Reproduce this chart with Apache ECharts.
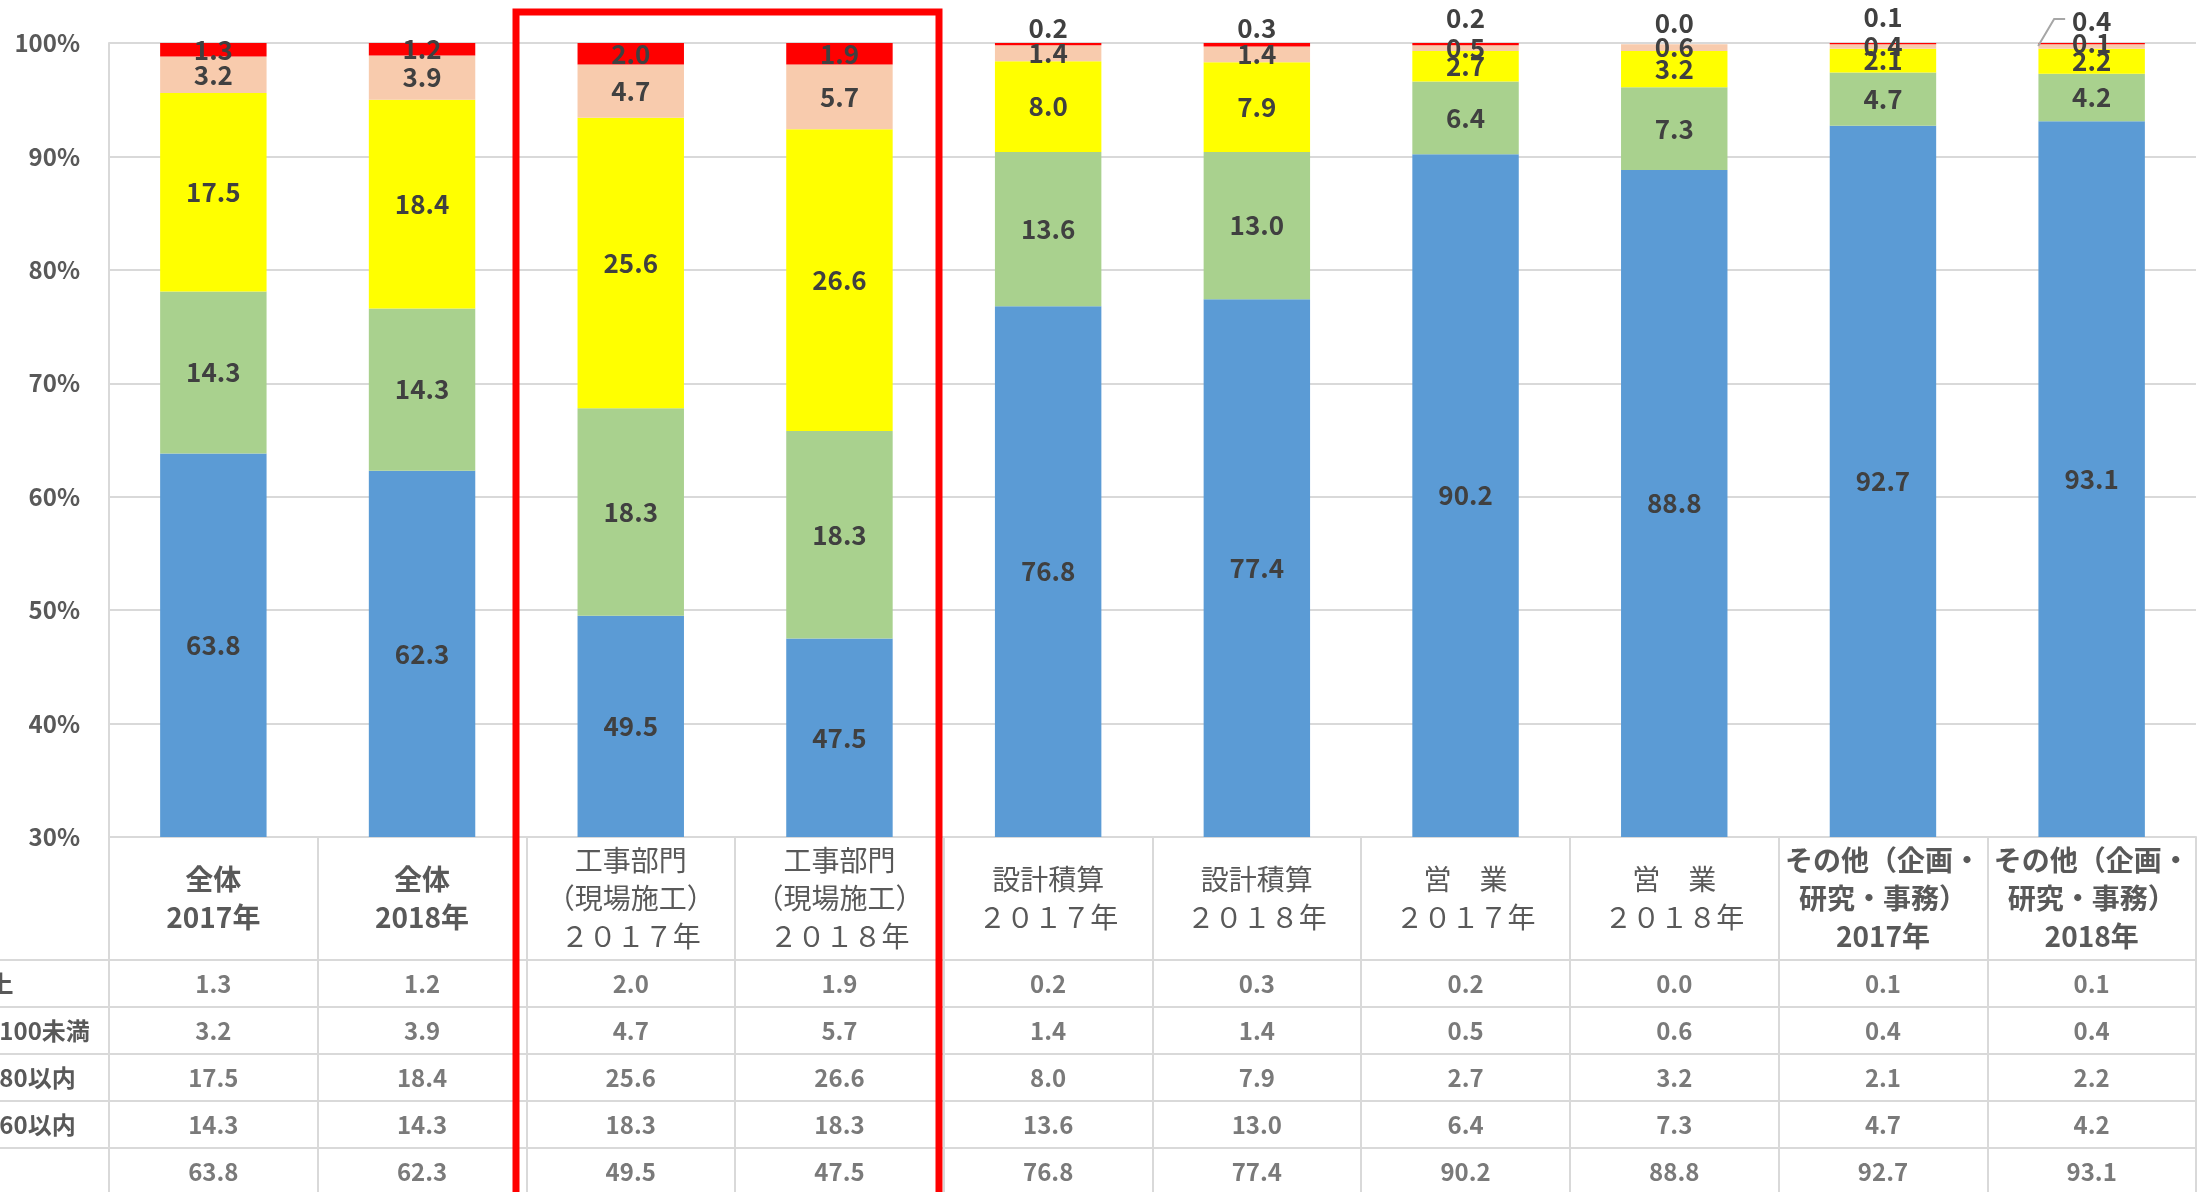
<!DOCTYPE html>
<html>
<head>
<meta charset="utf-8">
<script src="https://cdn.jsdelivr.net/npm/echarts@6/dist/echarts.min.js"></script>
<style>
  html, body { margin: 0; padding: 0; background: #fff; }
  #chart { width: 2202px; height: 1192px; }
</style>
</head>
<body>
<div id="chart"></div>
<script>
// ---------------------------------
// data
// ---------------------------------

const categories = [
    "全体\n2017年",
    "全体\n2018年",
    "工事部門\n（現場施工）\n２０１７年",
    "工事部門\n（現場施工）\n２０１８年",
    "設計積算\n２０１７年",
    "設計積算\n２０１８年",
    "営　業\n２０１７年",
    "営　業\n２０１８年",
    "その他（企画・\n研究・事務）\n2017年",
    "その他（企画・\n研究・事務）\n2018年"
];

// table rows, top to bottom (labels are cut at the left edge)
const rowNames = [
    "100以上",
    "80以上100未満",
    "60以上80以内",
    "40以上60以内",
    "40未満"
];

const redValues    = [1.3, 1.2, 2.0, 1.9, 0.2, 0.3, 0.2, 0.0, 0.1, 0.1];
const pinkValues   = [3.2, 3.9, 4.7, 5.7, 1.4, 1.4, 0.5, 0.6, 0.4, 0.4];
const yellowValues = [17.5, 18.4, 25.6, 26.6, 8.0, 7.9, 2.7, 3.2, 2.1, 2.2];
const greenValues  = [14.3, 14.3, 18.3, 18.3, 13.6, 13.0, 6.4, 7.3, 4.7, 4.2];
const blueValues   = [63.8, 62.3, 49.5, 47.5, 76.8, 77.4, 90.2, 88.8, 92.7, 93.1];

const yTicks = [30, 40, 50, 60, 70, 80, 90, 100];

// ---------------------------------
// styles
// ---------------------------------

const FONT = "'Noto Sans CJK JP', 'Noto Sans', sans-serif";
const LINE = "#D9D9D9";
const boldHeaders = [0, 1, 8, 9];

// red labels of the thin top segments were moved up
const redLabelShift = { 4: -16, 5: -17, 6: -26, 7: -21, 8: -26 };
// pink label of the last bar was dragged up (with a leader line)
const movedPinkIndex = 9;
const movedPinkShift = -25;

function barSeries(name, values, color, extra) {
    return Object.assign({
        name: name,
        type: "bar",
        stack: "total",
        barCategoryGap: "49%",
        xAxisIndex: 0,
        yAxisIndex: 0,
        itemStyle: { color: color },
        label: {
            show: true,
            position: "inside",
            fontFamily: FONT,
            fontWeight: "bold",
            fontSize: 26,
            color: "#404040",
            formatter: p => Number(p.value).toFixed(1)
        },
        data: values.slice()
    }, extra || {});
}

const tableData = [];
[redValues, pinkValues, yellowValues, greenValues, blueValues].forEach(
    (row, ri) => {
        row.forEach((v, ci) => {
            tableData.push([ci, ri, v]);
        });
    }
);

const chart = echarts.init(document.getElementById("chart"));

const boxRect = {
    type: "rect",
    z: 100,
    shape: { x: 516, y: 12, width: 423, height: 1200 },
    style: { fill: null, stroke: "#FF0000", lineWidth: 7 }
};

chart.setOption({
    backgroundColor: "#fff",
    animation: false,
    grid: [
        {
            left: 109, width: 2087, top: 43, height: 794,
            outerBoundsMode: "none", containLabel: false
        },
        {
            left: 109, width: 2087, top: 960, height: 235,
            outerBoundsMode: "none", containLabel: false
        }
    ],
    xAxis: [
        {
            type: "category",
            gridIndex: 0,
            data: categories,
            axisLine: { show: true, lineStyle: { color: LINE, width: 2 } },
            axisTick: {
                show: true,
                interval: 0,
                length: 123,
                lineStyle: { color: LINE, width: 2 }
            },
            axisLabel: {
                interval: 0,
                margin: 61,
                verticalAlign: "middle",
                formatter: function (value, index) {
                    const key = boldHeaders.indexOf(index) >= 0 ? "b" : "r";
                    return value.split("\n")
                        .map(s => "{" + key + "|" + s + "}")
                        .join("\n");
                },
                rich: {
                    b: {
                        fontFamily: FONT,
                        fontWeight: "bold",
                        fontSize: 28,
                        lineHeight: 38,
                        color: "#595959"
                    },
                    r: {
                        fontFamily: FONT,
                        fontWeight: "normal",
                        fontSize: 28,
                        lineHeight: 38,
                        color: "#595959"
                    }
                }
            }
        },
        {
            type: "category",
            gridIndex: 1,
            position: "top",
            data: categories,
            axisLine: { show: true, lineStyle: { color: LINE, width: 2 } },
            axisTick: { show: false },
            axisLabel: { show: false },
            splitLine: {
                show: true,
                interval: 0,
                lineStyle: { color: LINE, width: 2 }
            }
        }
    ],
    yAxis: [
        {
            type: "value",
            gridIndex: 0,
            min: yTicks[0],
            max: yTicks[yTicks.length - 1],
            interval: 10,
            axisLine: { show: true, lineStyle: { color: LINE, width: 2 } },
            axisTick: { show: false },
            splitLine: { show: true, lineStyle: { color: LINE, width: 2 } },
            axisLabel: {
                formatter: "{value}%",
                margin: 29,
                fontFamily: FONT,
                fontWeight: "bold",
                fontSize: 24,
                color: "#595959"
            }
        },
        {
            type: "category",
            gridIndex: 1,
            inverse: true,
            data: rowNames,
            axisLine: { show: true, lineStyle: { color: LINE, width: 2 } },
            axisTick: {
                show: true,
                interval: 0,
                length: 109,
                lineStyle: { color: LINE, width: 2 }
            },
            splitLine: {
                show: true,
                interval: 0,
                lineStyle: { color: LINE, width: 2 }
            },
            axisLabel: {
                interval: 0,
                align: "left",
                margin: 186,
                fontFamily: FONT,
                fontWeight: "bold",
                fontSize: 24,
                color: "#595959"
            }
        }
    ],
    series: [
        barSeries("blue", blueValues, "#5B9BD5"),
        barSeries("green", greenValues, "#A9D18E"),
        barSeries("yellow", yellowValues, "#FFFF00"),
        barSeries("pink", pinkValues, "#F8CBAD", {
            data: pinkValues.map((v, i) => i === movedPinkIndex
                ? { value: v, label: { offset: [0, movedPinkShift] } }
                : v)
        }),
        barSeries("red", redValues, "#FF0000", {
            data: redValues.map((v, i) => redLabelShift[i] !== undefined
                ? { value: v, label: { offset: [0, redLabelShift[i]] } }
                : v)
        }),
        {
            name: "table",
            type: "scatter",
            xAxisIndex: 1,
            yAxisIndex: 1,
            symbolSize: 2,
            itemStyle: { color: "rgba(0,0,0,0)" },
            label: {
                show: true,
                position: "inside",
                fontFamily: FONT,
                fontWeight: "bold",
                fontSize: 24,
                color: "#595959",
                formatter: p => p.value[2].toFixed(1)
            },
            data: tableData
        }
    ],
    graphic: [boxRect]
});

// leader line for the dragged label, anchored to the bar's top-left corner
const barW = 107;
const topPt = chart.convertToPixel(
    { xAxisIndex: 0, yAxisIndex: 0 },
    [movedPinkIndex, 100]
);
const x0 = topPt[0] - barW / 2;
const y0 = topPt[1] + 3;

chart.setOption({
    graphic: [
        boxRect,
        {
            type: "polyline",
            z: 50,
            shape: {
                points: [
                    [x0, y0],
                    [x0 + 16, y0 + movedPinkShift - 2],
                    [x0 + 27, y0 + movedPinkShift - 2]
                ]
            },
            style: { fill: null, stroke: "#A6A6A6", lineWidth: 2 }
        }
    ]
});
</script>
</body>
</html>
